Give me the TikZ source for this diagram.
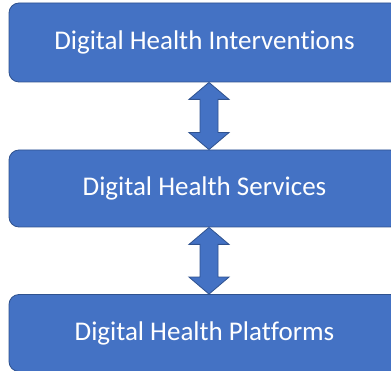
\documentclass[tikz,border=0pt]{standalone}
\usepackage{fontspec}
\setmainfont{Carlito}[Ligatures=NoCommon]
\usetikzlibrary{calc}
\definecolor{boxfill}{HTML}{4472C4}
\definecolor{boxline}{HTML}{2F528F}
\begin{document}
\begin{tikzpicture}[x=1pt,y=-1pt,
        layer/.style={draw=boxline,fill=boxfill,line width=0.8pt,rounded corners=10pt,
            minimum width=391pt,text=white,font=\fontsize{27}{32}\selectfont},
        link/.style={draw=boxline,fill=boxfill,line width=0.8pt,line join=miter}]
            \useasboundingbox (0,0) rectangle (391,371);
            \begin{scope}
            \clip (0,0) rectangle (391,371);
            \node[layer,minimum height=79pt] (interv) at (204.5, 42.5) {Digital Health Interventions};
            \node[layer,minimum height=77pt] (serv) at (204.5, 188.5) {Digital Health Services};
            \node[layer,minimum height=77pt] (plat) at (204.5, 333) {Digital Health Platforms};
            \end{scope}
            \coordinate (ax) at (209, 0);

            % two-way arrows between the layers
            \draw[link] (interv.south -| ax) -- ++(20,17) -- ++(-11,0)
                -- ($(serv.north -| ax)+(9,-17)$) -- ++(11,0) -- (serv.north -| ax)
                -- ++(-20,-17) -- ++(11,0) -- ($(interv.south -| ax)+(-9,17)$) -- ++(-11,0) -- cycle;
            \draw[link] (serv.south -| ax) -- ++(20,17) -- ++(-11,0)
                -- ($(plat.north -| ax)+(9,-17)$) -- ++(11,0) -- (plat.north -| ax)
                -- ++(-20,-17) -- ++(11,0) -- ($(serv.south -| ax)+(-9,17)$) -- ++(-11,0) -- cycle;
        \end{tikzpicture}
\end{document}
